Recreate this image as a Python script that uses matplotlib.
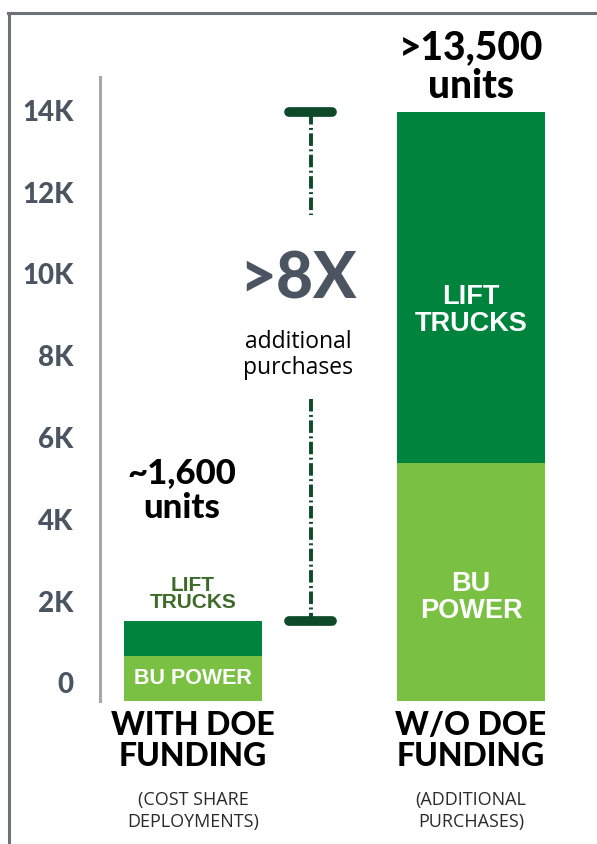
import matplotlib
matplotlib.use("Agg")
import matplotlib.pyplot as plt
from matplotlib.lines import Line2D
from matplotlib.transforms import ScaledTranslation

# data (units)
categories = ["WITH DOE\nFUNDING", "W/O DOE\nFUNDING"]
subtitles = ["(COST SHARE\nDEPLOYMENTS)", "(ADDITIONAL\nPURCHASES)"]
bu_power = [1100, 5820]
lift_trucks = [860, 8580]
totals_text = ["~1,600\nunits", ">13,500\nunits"]
yticks = [0, 2000, 4000, 6000, 8000, 10000, 12000, 14000]
ytick_labels = ["0", "2K", "4K", "6K", "8K", "10K", "12K", "14K"]
bar_widths = [0.496, 0.532]

DARK = "#00843D"
LIGHT = "#7AC143"
GREY = "#4B5562"
BRACKET = "#0E4A2A"

plt.rcParams["lines.scale_dashes"] = False

W, H = 597, 845
fig = plt.figure(figsize=(W / 100, H / 100), dpi=100)

# outer frame
fig.add_artist(Line2D([8 / W, 1], [1 - 14 / H, 1 - 14 / H], color="#6D7278", lw=2.2,
                      transform=fig.transFigure))
fig.add_artist(Line2D([9 / W, 9 / W], [0, 1 - 14 / H], color="#6D7278", lw=2.2,
                      transform=fig.transFigure))

ax = fig.add_axes([100 / W, (H - 702) / H, 490 / W, 624 / H])
px_per_unit = 40.9 / 1000
ax.set_ylim(0, 624 / px_per_unit)
ax.set_xlim(-0.3345, 1.428)

x = [0, 1]
ax.bar(x, bu_power, width=bar_widths, color=LIGHT, edgecolor="none")
ax.bar(x, lift_trucks, width=bar_widths, bottom=bu_power, color=DARK, edgecolor="none")

for s in ["top", "right", "bottom"]:
    ax.spines[s].set_visible(False)
ax.spines["left"].set_color("#A3A8AD")
ax.spines["left"].set_linewidth(2.2)
ax.set_xticks([])
ax.set_yticks(yticks)
ax.set_yticklabels(ytick_labels)
ax.tick_params(axis="y", length=0, pad=19)
for lab in ax.get_yticklabels():
    lab.set_fontfamily("Lato")
    lab.set_fontweight("black")
    lab.set_fontsize(20)
    lab.set_color(GREY)
    lab.set_transform(lab.get_transform() + ScaledTranslation(0, 0.19, fig.dpi_scale_trans))


def py(p):
    # pixel row of the figure -> data value
    return (702 - p) / px_per_unit


totals = [b + l for b, l in zip(bu_power, lift_trucks)]

# totals above bars
ax.text(x[0] - 0.04, py(491), totals_text[0], ha="center", va="center", fontfamily="Lato",
        fontweight="black", fontsize=25, color="black", linespacing=1.1)
ax.text(x[1], py(67), totals_text[1], ha="center", va="center", fontfamily="Lato",
        fontweight="black", fontsize=28, color="black", linespacing=1.08, clip_on=False)

# segment labels
ax.text(x[1], py(311), "LIFT\nTRUCKS", ha="center", va="center", color="white",
        fontfamily="Liberation Sans", fontweight="bold", fontsize=19.5, linespacing=1.05)
ax.text(x[1], py(598), "BU\nPOWER", ha="center", va="center", color="white",
        fontfamily="Liberation Sans", fontweight="bold", fontsize=19.5, linespacing=1.05)
ax.text(x[0], py(594), "LIFT\nTRUCKS", ha="center", va="center", color="#3F6B2A",
        fontfamily="Liberation Sans", fontweight="bold", fontsize=15, linespacing=0.9)
ax.text(x[0], py(679), "BU POWER", ha="center", va="center", color="white",
        fontfamily="Liberation Sans", fontweight="bold", fontsize=15.5)

# category labels under the bars
for i in range(2):
    ax.text(x[i], py(741), categories[i], ha="center", va="center", fontfamily="Lato",
            fontweight="black", fontsize=23, color="black", linespacing=1.12, clip_on=False)
    ax.text(x[i], py(811), subtitles[i], ha="center", va="center", fontfamily="Open Sans",
            fontsize=13, color="#2B2B2B", linespacing=1.35, clip_on=False)

# bracket between the two totals
bx = 0.424
cap = 0.077
ax.plot([bx - cap, bx + cap], [totals[1], totals[1]], color=BRACKET, lw=7, solid_capstyle="round")
ax.plot([bx - cap, bx + cap], [totals[0], totals[0]], color=BRACKET, lw=7, solid_capstyle="round")
ax.plot([bx, bx], [totals[1], py(216)], color=BRACKET, lw=2.8,
        dashes=(9, 2.5, 1.4, 2.5))
ax.plot([bx, bx], [py(400), totals[0]], color=BRACKET, lw=2.8,
        dashes=(9, 2.5, 1.4, 2.5))

ax.text(0.378, py(280), ">8X", ha="center", va="center", fontfamily="Lato", fontweight="black",
        fontsize=46, color=GREY)
ax.text(0.378, py(355), "additional\npurchases", ha="center", va="center", fontfamily="Open Sans",
        fontsize=16.5, color="black", linespacing=1.15)

fig.savefig("out.png", dpi=100)
